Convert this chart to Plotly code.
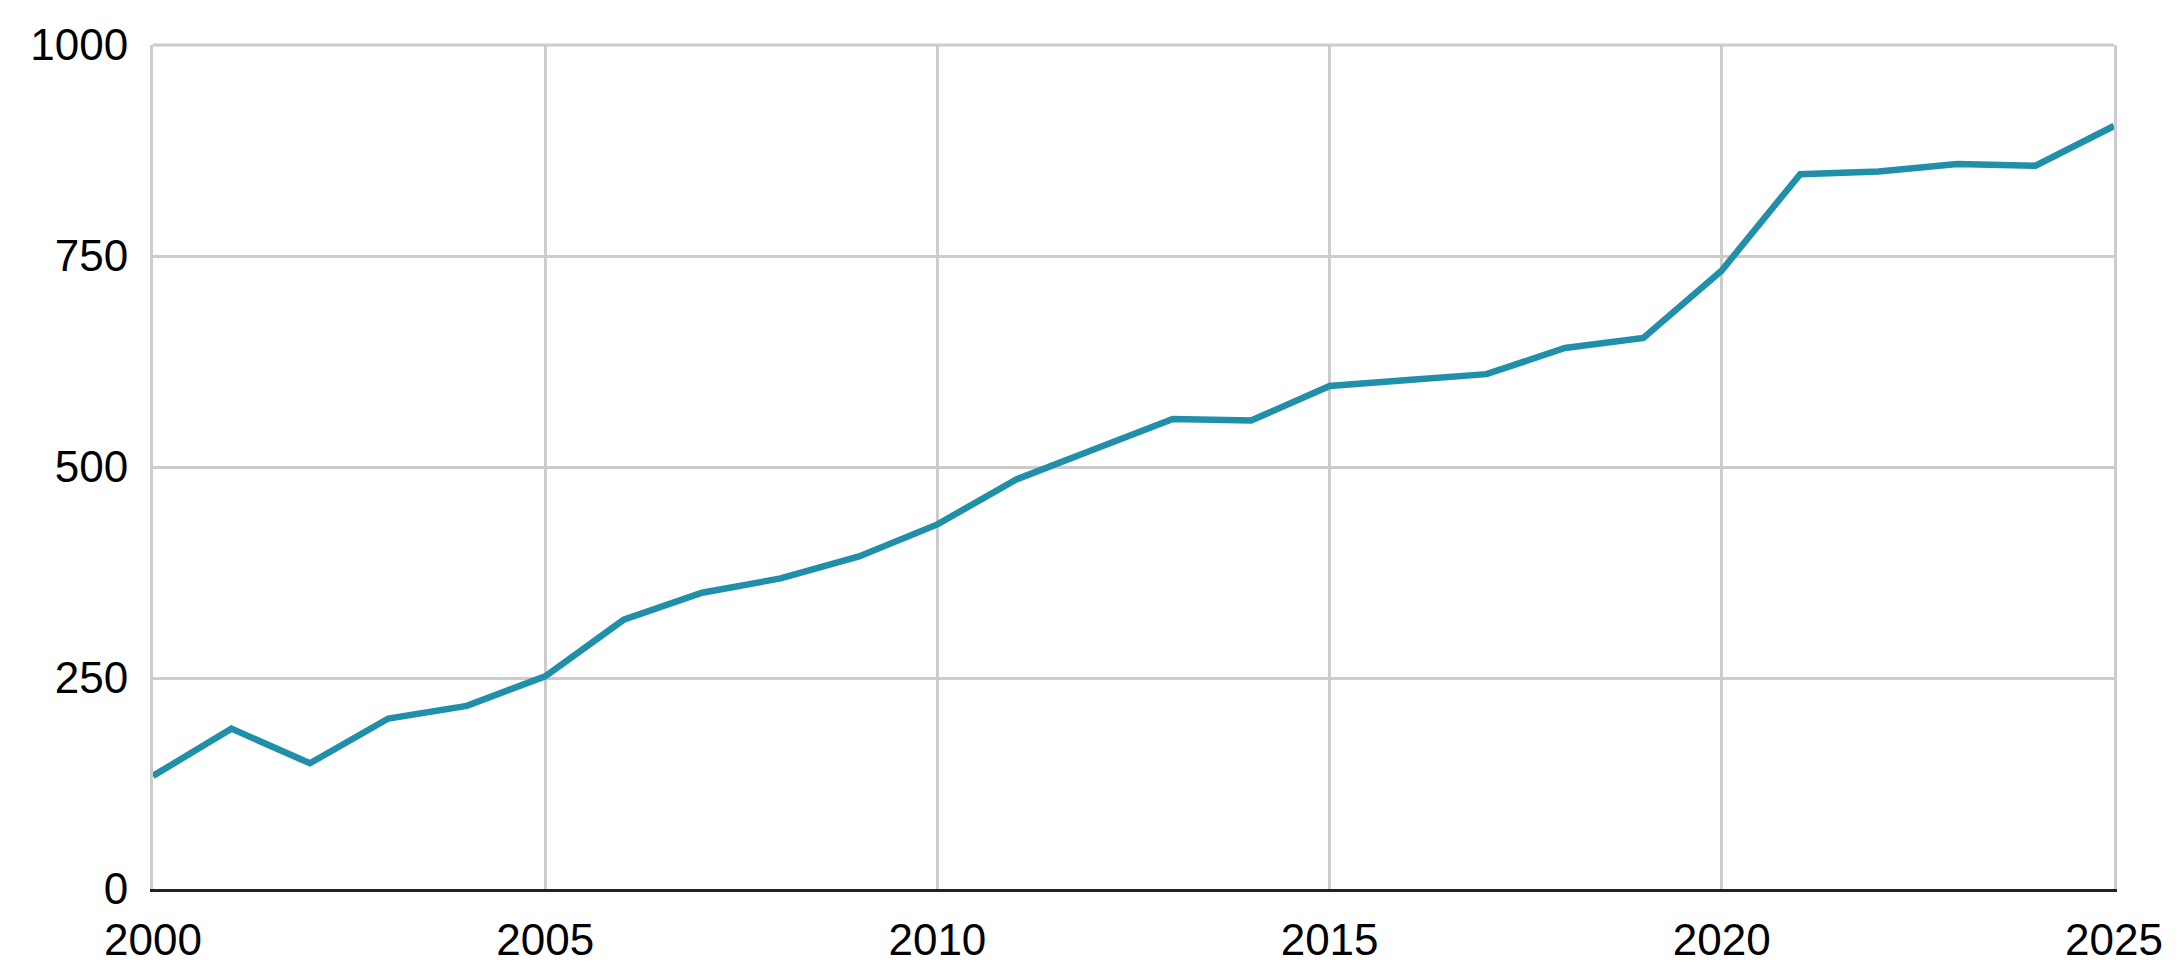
import plotly.graph_objects as go

years = list(range(2000, 2026))
values = [134, 190, 149, 202, 217, 252, 319, 351, 368, 394, 432, 485, 521, 557, 555,
          596, 603, 610, 641, 653, 733, 847, 850, 859, 857, 904]
x_ticks = [2000, 2005, 2010, 2015, 2020, 2025]
y_ticks = [0, 250, 500, 750, 1000]

fig = go.Figure()
fig.add_trace(go.Scatter(x=years, y=values, mode="lines",
                         line=dict(color="#1F8FAA", width=6.5), showlegend=False))

fig.update_layout(
    width=2184, height=979,
    margin=dict(l=153, r=70, t=45, b=90),
    paper_bgcolor="white", plot_bgcolor="white",
    font=dict(family="Liberation Sans, Arial, sans-serif", size=44, color="#000000"),
    shapes=[dict(type="line", xref="paper", yref="paper", x0=0, x1=1, y0=1, y1=1,
                 line=dict(color="#CCCCCC", width=3), layer="below")],
)
fig.update_xaxes(range=[2000, 2025], tickvals=x_ticks, ticktext=[str(t) for t in x_ticks],
                 showgrid=True, gridcolor="#CCCCCC", gridwidth=3,
                 showline=True, linecolor="#222222", linewidth=3,
                 zeroline=False, ticks="", ticklabelstandoff=10)
fig.update_yaxes(range=[0, 1000], tickvals=y_ticks, ticktext=[str(t) for t in y_ticks],
                 showgrid=True, gridcolor="#CCCCCC", gridwidth=3,
                 showline=True, linecolor="#CCCCCC", linewidth=3, mirror=True,
                 zeroline=False, ticks="", ticklabelstandoff=13)

fig.write_html("out.html")
